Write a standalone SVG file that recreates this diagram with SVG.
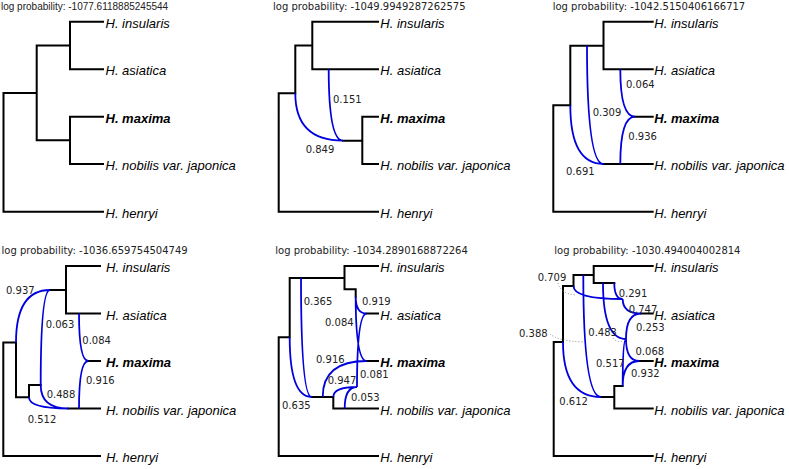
<svg xmlns="http://www.w3.org/2000/svg" width="789" height="469" viewBox="0 0 789 469">
<style>
.br{stroke:#000;stroke-width:2;fill:none;stroke-linecap:square}
.hy{stroke:#0000dd;stroke-width:1.8;fill:none}
.dt{stroke:#888;stroke-width:1;stroke-dasharray:1 2;fill:none}
.sp{font-family:"Liberation Sans",Arial,sans-serif;font-style:italic;font-size:13px;fill:#000}
.bd{font-weight:bold}
.ti{font-family:"DejaVu Sans",Verdana,sans-serif;font-size:10px;fill:#222}
.ta{font-family:"Liberation Sans",Arial,sans-serif;font-size:10px;fill:#222}
.lb{font-family:"DejaVu Sans",Verdana,sans-serif;font-size:10px;fill:#222}
</style>
<rect width="789" height="469" fill="#fff"/>

<!-- Panel 1 -->
<g id="panel1">
<text class="ta" x="1" y="9.5">log probability: -1077.6118885245544</text>
<g id="p1-edges">
<path class="br" d="M70,21.7H103M70,69.3H103M70,21.7V69.3M70,116.7H103M70,164H103M70,116.7V164M36.7,45.5H70M36.7,140.3H70M36.7,45.5V140.3M3.5,93H36.7M3.5,93V211.7H103"/>
</g>
<g id="p1-n1"><text class="sp" x="105.5" y="27.7">H. insularis</text></g>
<g id="p1-n2"><text class="sp" x="105.5" y="75.3">H. asiatica</text></g>
<g id="p1-n3"><text class="sp bd" x="105.5" y="122.7">H. maxima</text></g>
<g id="p1-n4"><text class="sp" x="105.5" y="170">H. nobilis var. japonica</text></g>
<g id="p1-n5"><text class="sp" x="105.5" y="217.7">H. henryi</text></g>
</g>

<!-- Panel 2 -->
<g id="panel2">
<text class="ti" x="273" y="9.5">log probability: -1049.9949287262575</text>
<g id="p2-edges">
<path class="br" d="M312.3,21.7H378M312.3,69.3H378M312.3,21.7V69.3M295.3,45.5H312.3M295.3,45.5V93.3M278.7,93.3H295.3M278.7,93.3V211.7H378M362.3,116.7H378M362.3,164H378M362.3,116.7V164M343,140.7H362.3"/>
<path class="hy" d="M295.3,93.3Q295.3,140.7 343,140.7M328.7,69.3Q328.7,140.7 343,140.7"/>
</g>
<text class="lb" x="333" y="103">0.151</text>
<text class="lb" x="305.7" y="152.5">0.849</text>
<g id="p2-n1"><text class="sp" x="380.3" y="27.7">H. insularis</text></g>
<g id="p2-n2"><text class="sp" x="380.3" y="75.3">H. asiatica</text></g>
<g id="p2-n3"><text class="sp bd" x="380.3" y="122.7">H. maxima</text></g>
<g id="p2-n4"><text class="sp" x="380.3" y="170">H. nobilis var. japonica</text></g>
<g id="p2-n5"><text class="sp" x="380.3" y="217.7">H. henryi</text></g>
</g>

<!-- Panel 3 -->
<g id="panel3">
<text class="ti" x="552.7" y="9.5">log probability: -1042.5150406166717</text>
<g id="p3-edges">
<path class="br" d="M603.5,21.7H652.7M603.5,69.3H652.7M603.5,21.7V69.3M570.3,45.7H603.5M570.3,45.7V105.3M553.3,105.3H570.3M553.3,105.3V211.7H652.7M603.5,164H652.7M635,116.7H652.7"/>
<path class="hy" d="M570.3,105.3Q570.3,164 603.5,164M587,45.7Q587,164 603.5,164M620.3,69.3Q620.3,116.7 635,116.7M620.3,164Q620.3,116.7 635,116.7"/>
</g>
<text class="lb" x="626" y="88">0.064</text>
<text class="lb" x="592.7" y="116.3">0.309</text>
<text class="lb" x="628.3" y="139.6">0.936</text>
<text class="lb" x="566" y="174.6">0.691</text>
<g id="p3-n1"><text class="sp" x="654.3" y="27.7">H. insularis</text></g>
<g id="p3-n2"><text class="sp" x="654.3" y="75.3">H. asiatica</text></g>
<g id="p3-n3"><text class="sp bd" x="654.3" y="122.7">H. maxima</text></g>
<g id="p3-n4"><text class="sp" x="654.3" y="170">H. nobilis var. japonica</text></g>
<g id="p3-n5"><text class="sp" x="654.3" y="217.7">H. henryi</text></g>
</g>

<!-- Panel 4 -->
<g id="panel4">
<text class="ti" x="1.5" y="254.3">log probability: -1036.659754504749</text>
<g id="p4-edges">
<path class="br" d="M66,266H100M66,313.5H100M66,266V313.5M50,290H66M3.3,342.5H16M3.3,342.5V456H100M16,342.5V397.3H29M29,385V397.3M29,385H40.7M68.3,408.5H100M88.3,361H100"/>
<path class="hy" d="M16,342.5Q16,290 50,290M40.7,385Q40.7,290 50,290M40.7,385Q40.7,408.5 68.3,408.5M29,397.3Q29,408.5 68.3,408.5M79,313.5Q79,361 88.3,361M79,408.5Q79,361 88.3,361"/>
</g>
<text class="lb" x="6" y="293.6">0.937</text>
<text class="lb" x="45.7" y="327.6">0.063</text>
<text class="lb" x="82.3" y="344.3">0.084</text>
<text class="lb" x="86" y="383.6">0.916</text>
<text class="lb" x="46.7" y="397.6">0.488</text>
<text class="lb" x="27.7" y="422.6">0.512</text>
<g id="p4-n1"><text class="sp" x="106" y="272">H. insularis</text></g>
<g id="p4-n2"><text class="sp" x="106" y="319.5">H. asiatica</text></g>
<g id="p4-n3"><text class="sp bd" x="106" y="367">H. maxima</text></g>
<g id="p4-n4"><text class="sp" x="106" y="414.5">H. nobilis var. japonica</text></g>
<g id="p4-n5"><text class="sp" x="106" y="462">H. henryi</text></g>
</g>

<!-- Panel 5 -->
<g id="panel5">
<text class="ti" x="275.3" y="254">log probability: -1034.2890168872264</text>
<g id="p5-edges">
<path class="br" d="M278.7,337.3V456H378M278.7,337.3H289.7M289.7,278V337.3M289.7,278H344.5M344.5,266V289.3M344.5,266H378M344.5,289.3H355.7V296.7M366.7,313.5H378M366.7,361H378M311.7,397H333.3M333.3,397V408.5H378"/>
<path class="hy" d="M301,278Q301,397 311.7,397M289.7,337.3Q289.7,397 311.7,397M355.7,296.7Q355.7,313.5 366.7,313.5M355.7,296.7Q355.7,361 366.7,361M322.7,397Q322.7,361 366.7,361M357,387Q357,313.5 366.7,313.5M333.3,397Q333.3,387 357,387M344.7,408.5Q344.7,387 357,387"/>
</g>
<text class="lb" x="303.7" y="305">0.365</text>
<text class="lb" x="362" y="305">0.919</text>
<text class="lb" x="325" y="325.5">0.084</text>
<text class="lb" x="316" y="363">0.916</text>
<text class="lb" x="327.7" y="383.6">0.947</text>
<text class="lb" x="360" y="378">0.081</text>
<text class="lb" x="351" y="401.3">0.053</text>
<text class="lb" x="282" y="409.3">0.635</text>
<g id="p5-n1"><text class="sp" x="380.3" y="272">H. insularis</text></g>
<g id="p5-n2"><text class="sp" x="380.3" y="319.5">H. asiatica</text></g>
<g id="p5-n3"><text class="sp bd" x="380.3" y="367">H. maxima</text></g>
<g id="p5-n4"><text class="sp" x="380.3" y="414.5">H. nobilis var. japonica</text></g>
<g id="p5-n5"><text class="sp" x="380.3" y="462">H. henryi</text></g>
</g>

<!-- Panel 6 -->
<g id="panel6">
<text class="ti" x="554.3" y="254">log probability: -1030.494004002814</text>
<g id="p6-edges">
<path class="br" d="M553.7,342V456H652.7M553.7,342H563M563,286V342M563,286H573.5M573.5,275V286M573.5,275H593.7M593.7,266V283M593.7,266H652.7M593.7,283H614.3M601,397H614.3M614.3,386V408.5H652.7M614.3,386H622.7M641,313.5H652.7M639.3,361H652.7"/>
<path class="hy" d="M563,342Q563,397 601,397M583.3,275Q583.3,397 601,397M573.5,286Q573.5,299 622.7,299M614.3,283Q614.3,299 622.7,299M622.7,299Q622.7,313.5 641,313.5M603,283Q603,339 626,339M622.7,386Q622.7,339 626,339M626,339Q626,313.5 641,313.5M626,339Q626,361 639.3,361M622.7,386Q622.7,361 639.3,361"/>
<path class="dt" d="M558,283Q561,294 576,295M550,334Q558,341 583,342M613,338Q617,343 624,341"/>
</g>
<text class="lb" x="537.7" y="280.5">0.709</text>
<text class="lb" x="618.7" y="296.5">0.291</text>
<text class="lb" x="628.7" y="312.5">0.747</text>
<text class="lb" x="636" y="331">0.253</text>
<text class="lb" x="519" y="336.5">0.388</text>
<text class="lb" x="588.3" y="336">0.483</text>
<text class="lb" x="635.5" y="355">0.068</text>
<text class="lb" x="596" y="366.5">0.517</text>
<text class="lb" x="631" y="377">0.932</text>
<text class="lb" x="559.3" y="405">0.612</text>
<g id="p6-n1"><text class="sp" x="654.3" y="272">H. insularis</text></g>
<g id="p6-n2"><text class="sp" x="654.3" y="319.5">H. asiatica</text></g>
<g id="p6-n3"><text class="sp bd" x="654.3" y="367">H. maxima</text></g>
<g id="p6-n4"><text class="sp" x="654.3" y="414.5">H. nobilis var. japonica</text></g>
<g id="p6-n5"><text class="sp" x="654.3" y="462">H. henryi</text></g>
</g>
</svg>
